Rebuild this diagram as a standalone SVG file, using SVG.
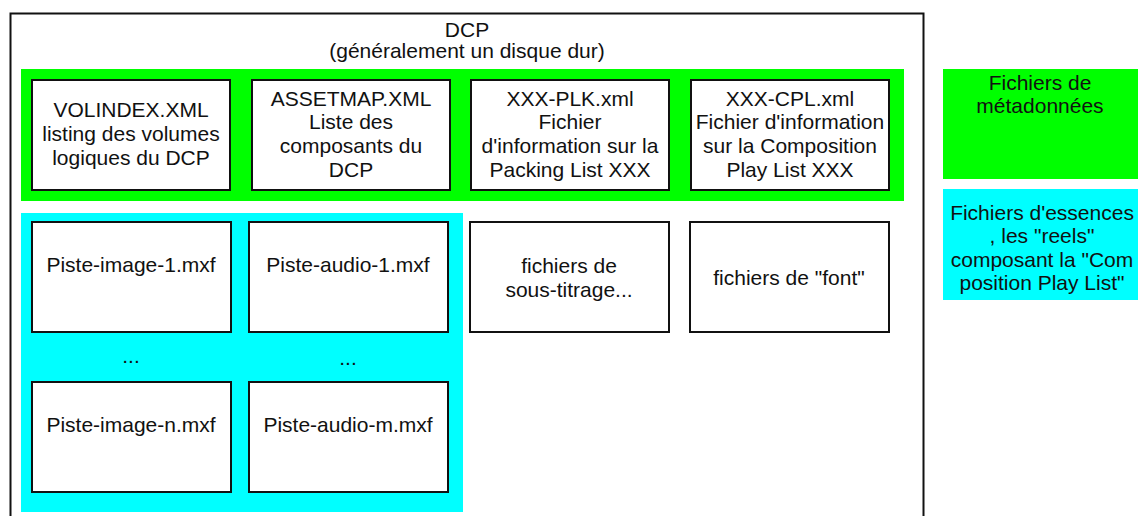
<svg xmlns="http://www.w3.org/2000/svg" width="1138" height="516" viewBox="0 0 1138 516">
<style>
text{font-family:"Liberation Sans",Arial,sans-serif;font-size:21px;fill:#111;text-anchor:middle}
.box{fill:#fff;stroke:#111;stroke-width:2}
.green{fill:#00ff00}
.cyan{fill:#00ffff}
</style>
<rect width="1138" height="516" fill="#fff"/>
<g id="dcp">
<rect x="10.5" y="13.5" width="913" height="520" fill="#fff" stroke="#111" stroke-width="2"/>
<text x="467" y="37">DCP</text>
<text x="467" y="58">(généralement un disque dur)</text>
</g>
<g id="meta-group"><rect class="green" x="21" y="69" width="883" height="132"/></g>
<g id="essence-group"><rect class="cyan" x="21" y="213" width="442" height="299"/></g>
<g id="volindex">
<rect class="box" x="32" y="80" width="198" height="110"/>
<text x="131" y="117">VOLINDEX.XML</text>
<text x="131" y="141">listing des volumes</text>
<text x="131" y="165">logiques du DCP</text>
</g>
<g id="assetmap">
<rect class="box" x="252" y="80" width="198" height="110"/>
<text x="351" y="106">ASSETMAP.XML</text>
<text x="351" y="129">Liste des</text>
<text x="351" y="153">composants du</text>
<text x="351" y="177">DCP</text>
</g>
<g id="pkl">
<rect class="box" x="471" y="80" width="198" height="110"/>
<text x="570" y="106">XXX-PLK.xml</text>
<text x="570" y="129">Fichier</text>
<text x="570" y="153">d'information sur la</text>
<text x="570" y="177">Packing List XXX</text>
</g>
<g id="cpl">
<rect class="box" x="691" y="80" width="198" height="110"/>
<text x="790" y="106">XXX-CPL.xml</text>
<text x="790" y="129">Fichier d'information</text>
<text x="790" y="153">sur la Composition</text>
<text x="790" y="177">Play List XXX</text>
</g>
<g id="image1">
<rect class="box" x="32" y="222" width="199" height="110"/>
<text x="131" y="272">Piste-image-1.mxf</text>
</g>
<g id="audio1">
<rect class="box" x="249" y="222" width="199" height="110"/>
<text x="348" y="272">Piste-audio-1.mxf</text>
</g>
<g id="dots1"><text x="131" y="363">...</text></g>
<g id="dots2"><text x="348" y="365">...</text></g>
<g id="imagen">
<rect class="box" x="32" y="382" width="199" height="110"/>
<text x="131" y="432">Piste-image-n.mxf</text>
</g>
<g id="audiom">
<rect class="box" x="249" y="382" width="199" height="110"/>
<text x="348" y="432">Piste-audio-m.mxf</text>
</g>
<g id="subtitles">
<rect class="box" x="470" y="222" width="199" height="110"/>
<text x="569" y="273">fichiers de</text>
<text x="569" y="297">sous-titrage...</text>
</g>
<g id="fonts">
<rect class="box" x="690" y="222" width="199" height="110"/>
<text x="789" y="285">fichiers de "font"</text>
</g>
<g id="legend-meta">
<rect class="green" x="943" y="69" width="195" height="110"/>
<text x="1040" y="90">Fichiers de</text>
<text x="1040" y="113">métadonnées</text>
</g>
<g id="legend-essence">
<rect class="cyan" x="943" y="189" width="195" height="111"/>
<text x="1042" y="220">Fichiers d'essences</text>
<text x="1042" y="243">, les "reels"</text>
<text x="1042" y="267">composant la "Com</text>
<text x="1042" y="290">position Play List"</text>
</g>
<g id="connectors"/>
</svg>
